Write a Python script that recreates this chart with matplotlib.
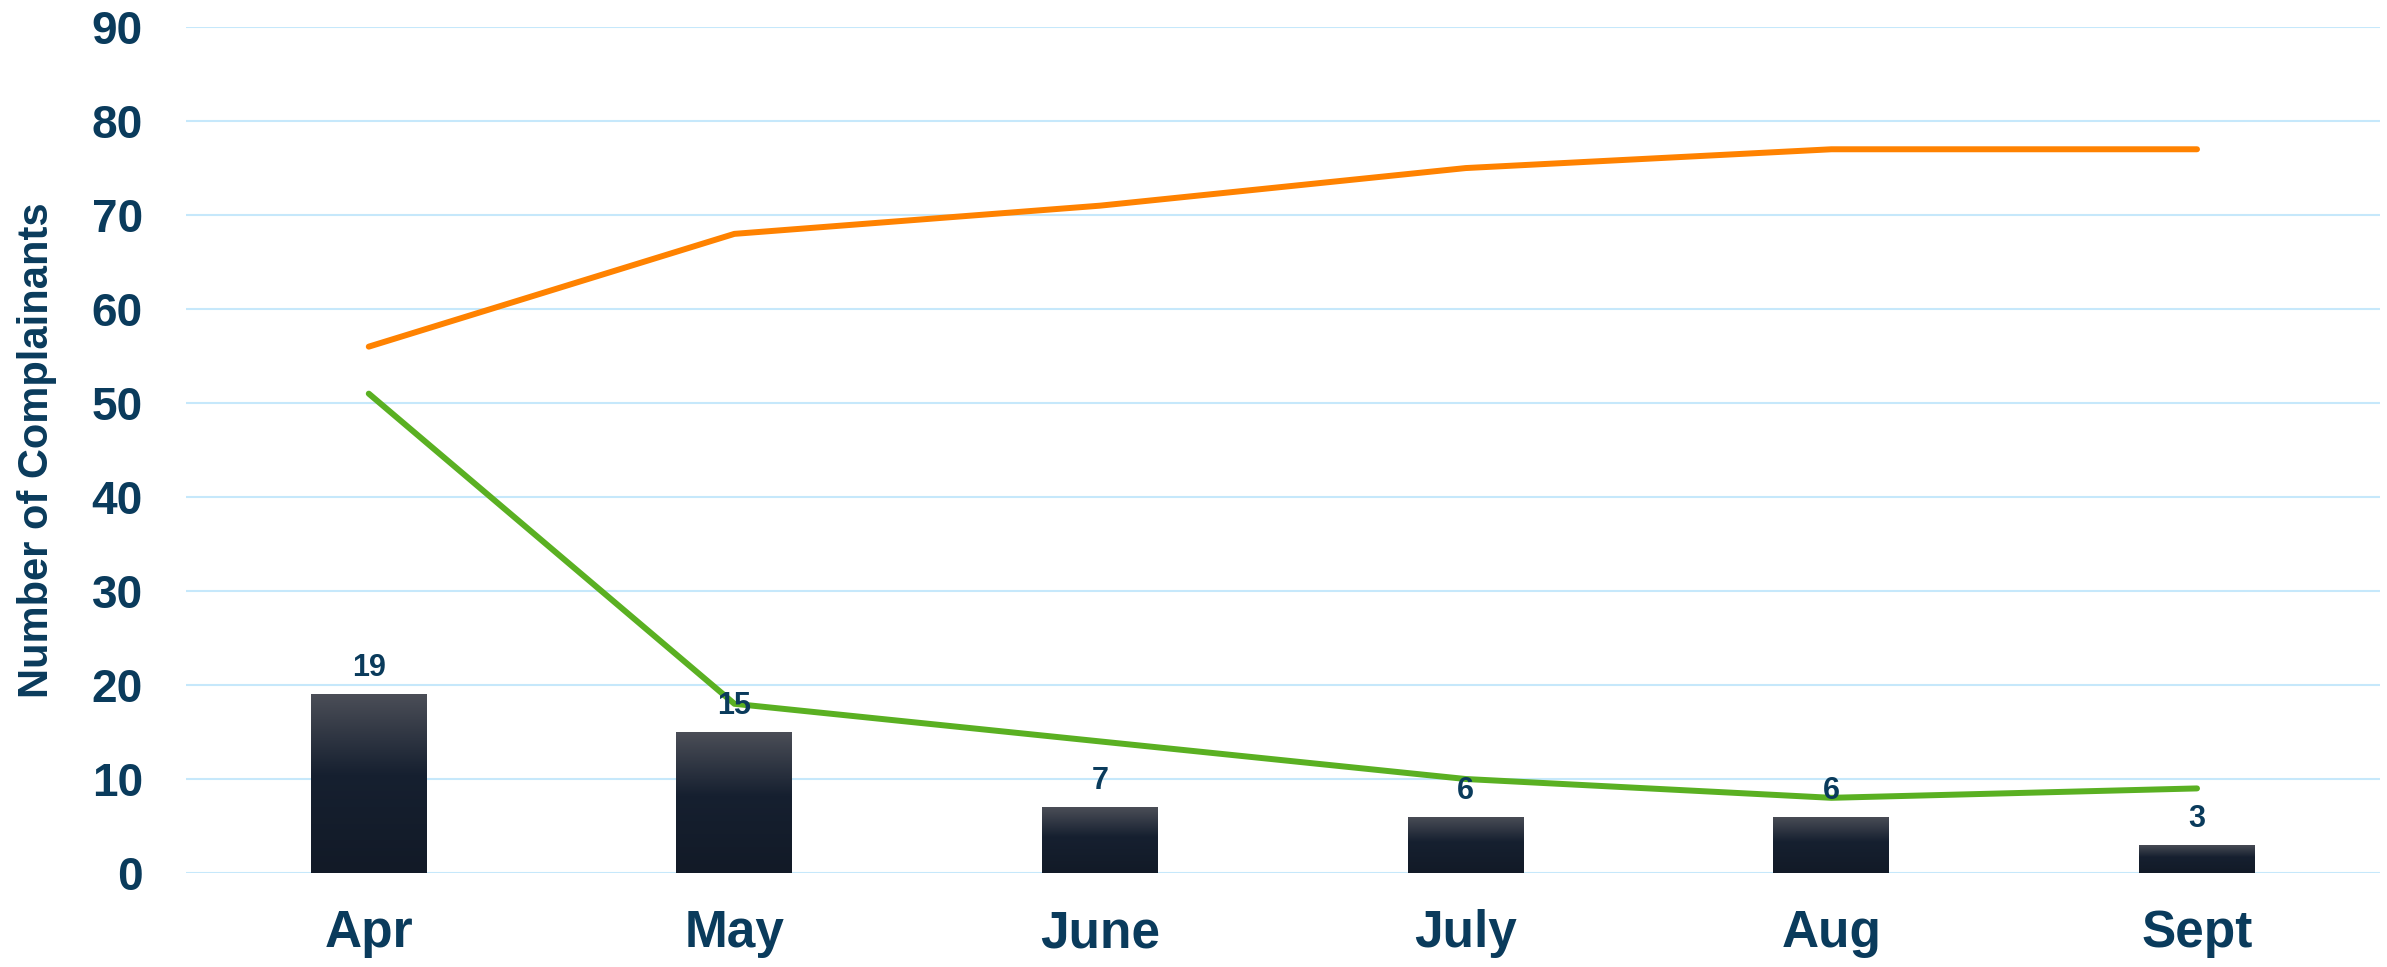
import numpy as np
import matplotlib
matplotlib.use('Agg')
import matplotlib.pyplot as plt
from matplotlib.colors import LinearSegmentedColormap
from matplotlib import font_manager

# data
months = ['Apr', 'May', 'June', 'July', 'Aug', 'Sept']
bar_values = [19, 15, 7, 6, 6, 3]
orange_values = [56, 68, 71, 75, 77, 77]
green_values = [51, 18, 14, 10, 8, 9]
y_ticks = [0, 10, 20, 30, 40, 50, 60, 70, 80, 90]

navy = '#0A3B5C'
plt.rcParams['font.family'] = ['Liberation Sans', 'DejaVu Sans']

names = set(f.name for f in font_manager.fontManager.ttflist)
if 'Liberation Sans Narrow' in names:
    ylab_font = {'family': ['Liberation Sans Narrow', 'Liberation Sans'], 'size': 32}
else:
    ylab_font = {'family': ['Liberation Sans'], 'size': 30}

fig = plt.figure(figsize=(23.87, 9.67), dpi=100)
ax = fig.add_axes([0.0779, 0.0972, 0.9191, 0.8748])

x = np.arange(len(months))
bw = 0.317

# bars with a vertical gradient (grey on top, dark navy below)
cmap = LinearSegmentedColormap.from_list('bar', [(0, '#121A27'), (0.55, '#162030'), (1, '#4B4E57')])
grad = np.linspace(0, 1, 256).reshape(-1, 1)
bars = ax.bar(x, bar_values, width=bw, color='none', edgecolor='none', zorder=2)
for b in bars:
    x0, w, h = b.get_x(), b.get_width(), b.get_height()
    im = ax.imshow(grad, extent=[x0, x0 + w, 0, h], origin='lower', aspect='auto',
                   cmap=cmap, zorder=2)
    im.set_clip_path(b)

ax.plot(x, orange_values, color='#FF8200', lw=4.3, solid_capstyle='round', solid_joinstyle='round', zorder=3)
ax.plot(x, green_values, color='#5AB022', lw=4.3, solid_capstyle='round', solid_joinstyle='round', zorder=3)

for xi, v in zip(x, bar_values):
    ax.annotate(str(v), (xi, v), xytext=(0, 13), textcoords='offset points',
                ha='center', va='baseline', fontsize=22, fontweight='bold', color=navy, zorder=5)

ax.set_xlim(-0.5, 5.5)
ax.set_ylim(0, 90)
ax.set_yticks(y_ticks)
ax.set_xticks(x)
ax.set_xticklabels(months)
ax.tick_params(axis='y', length=0, pad=31, labelsize=33, labelcolor=navy)
ax.tick_params(axis='x', length=0, pad=26, labelsize=37, labelcolor=navy)
for lab in ax.get_yticklabels() + ax.get_xticklabels():
    lab.set_fontweight('bold')

ax.grid(axis='y', color='#C6E8FB', lw=1.5)
ax.set_axisbelow(True)
for s in ax.spines.values():
    s.set_visible(False)

ax.set_ylabel('Number of Complainants', fontdict=ylab_font, fontweight='bold', color=navy)
ax.yaxis.set_label_coords(-0.059, 0.5)

fig.savefig('out.png', dpi=100)
